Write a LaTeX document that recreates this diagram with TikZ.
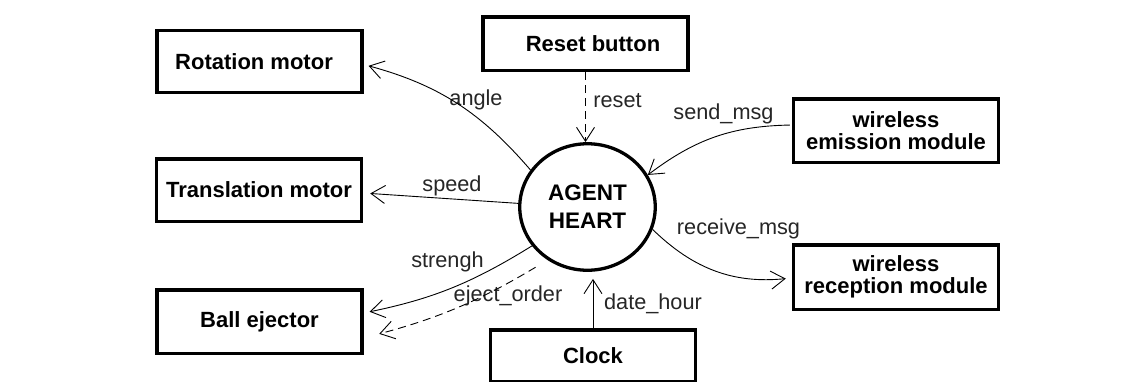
\documentclass[tikz,border=0pt]{standalone}
\usepackage{fontspec}
\setmainfont{Liberation Sans}
\usetikzlibrary{arrows.meta,shapes.geometric}
\begin{document}
\begin{tikzpicture}[x=1pt,y=-1pt,
  box/.style={draw, line width=3.5pt, minimum width=205pt, minimum height=62pt, inner sep=0pt,
    font=\fontsize{22}{22.6}\selectfont\bfseries},
  lbl/.style={inner sep=0pt, font=\fontsize{21.7}{24}\selectfont, text=black!85},
  conn/.style={line width=0.9pt, -{Straight Barb[length=14pt,width=18pt]}},
  dashconn/.style={conn, dash pattern=on 8pt off 5pt}
]
\clip (0,0) rectangle (1138,381);
\fill[white] (0,0) rectangle (1138,381);

% boxes
\node[box] (rot) at (259.5,61.5) {Rotation motor\kern11pt};
\node[box, minimum height=62.5pt] (trans) at (259,190) {Translation motor};
\node[box, minimum height=63.5pt] (ball) at (259.5,321.5) {Ball ejector};
\node[box, minimum height=53.5pt] (reset) at (585.5,43.5) {\kern15pt Reset button};
\node[box, minimum height=63.5pt, align=center] (wem) at (896,130.5) {wireless\\emission module};
\node[box, minimum height=64.5pt, align=center] (wrec) at (896,277) {wireless\\reception module};
\node[box, minimum height=52pt] (clock) at (593,356) {Clock};

% agent heart
\node[draw, ellipse, line width=3.3pt, minimum width=135.5pt, minimum height=126.5pt, inner sep=0pt,
  align=center, font=\fontsize{22.5}{28}\selectfont\bfseries] (heart) at (587.5,207) {AGENT\\HEART};

% labels
\node[lbl] (langle) at (476,100) {angle};
\node[lbl] (lreset) at (617.5,100.5) {reset};
\node[lbl] (lsend) at (723.5,114) {send\_msg};
\node[lbl] (lspeed) at (452,186) {speed};
\node[lbl] (lstr) at (447.5,262) {strengh};
\node[lbl] (leject) at (508,296) {eject\_order};
\node[lbl] (ldate) at (653,304) {date\_hour};
\node[lbl] (lrecv) at (738.5,228.5) {receive\_msg};

% connectors
\draw[conn, shorten >=5pt] (heart.147) to[bend right=17] ([yshift=-3pt]rot.east);
\draw[conn, shorten >=7pt] (heart.177) -- ([yshift=-3pt]trans.east);
\draw[conn, shorten >=6pt] (heart.215) to[bend left=10] ([yshift=8.5pt]ball.east);
\draw[dashconn, shorten <=14pt, shorten >=16pt] (heart.233) to[bend left=8] ([yshift=-16.5pt]ball.east);
\draw[dashconn] (reset.south) -- (reset.south |- heart.north);
\draw[conn, shorten <=2pt] ([yshift=5.5pt]wem.west) to[bend right=18] (heart.28);
\draw[conn, shorten >=6pt] (heart.341) to[bend right=25] ([yshift=-1pt]wrec.west);
\draw[conn, shorten >=7pt] (clock.north) -- (clock.north |- heart.south);
\end{tikzpicture}
\end{document}
